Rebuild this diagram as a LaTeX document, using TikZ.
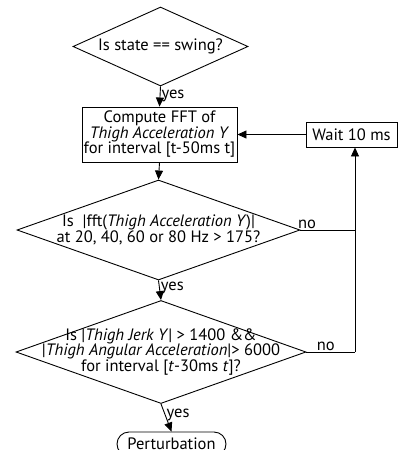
\documentclass[tikz,border=0pt]{standalone}
\usepackage{fontspec}
\setmainfont{PT Sans}
\usetikzlibrary{shapes.geometric,shapes.misc,arrows.meta}

\tikzset{
    decision/.style={draw, diamond, inner sep=-30pt, align=center},
    process/.style={draw, rectangle, inner sep=0pt, align=center},
    terminal/.style={draw, rounded rectangle, inner sep=0pt},
    flow/.style={-{Triangle[width=8pt,length=9pt]}},
    answer/.style={anchor=west, inner sep=1pt}
}

\begin{document}
\begin{tikzpicture}[x=1pt, y=1pt, line width=0.9pt, font=\fontsize{16.5}{15.5}\selectfont]
    \useasboundingbox (0,0) rectangle (398,-450);

    % MAIN COLUMN
    \node[decision, aspect=2.2, minimum width=175pt, minimum height=79pt] (swing) at (160.5, -46.5)
        {Is state == swing?};
    \node[process, minimum width=155pt, minimum height=55pt] (fft) at (159.5, -134.5)
        {Compute FFT of\\ \textit{Thigh Acceleration Y}\\ for interval [t-50ms t]};
    \node[decision, aspect=2.83, minimum width=283pt, minimum height=100pt] (peak) at (158.5, -230)
        {Is \ |fft(\textit{Thigh Acceleration Y})|\\ at 20, 40, 60 or 80 Hz > 175?};
    \node[decision, aspect=2.82, minimum width=290pt, minimum height=103pt] (jerk) at (161, -352)
        {Is |\textit{Thigh Jerk Y}| > 1400 \&\&\\ |\textit{Thigh Angular Acceleration}|> 6000\\ for interval [\textit{t}-30ms \textit{t}]?};
    \node[terminal, minimum width=109pt, minimum height=24pt] (perturb) at (171.5, -444)
        {Perturbation};

    % RIGHT: waiting loop
    \node[process, minimum width=91pt, minimum height=25pt] (wait) at (351.5, -134.5)
        {Wait 10 ms};
    \coordinate (loop) at (355, -352);

    % yes branches
    \draw[flow] (swing.south) -- node[answer, pos=0.45] {yes} (fft.north);
    \draw[flow] (fft.south) -- (peak.north);
    \draw[flow] (peak.south) -- node[answer, pos=0.4] {yes} (jerk.north);
    \draw[flow] (jerk.south) -- node[answer, pos=0.4] {yes} (perturb.north);

    % no branches
    \draw (jerk.east) -- node[above, inner sep=1pt, pos=0.4] {no} (loop);
    \draw (peak.east) -- node[above, inner sep=1pt, pos=0.12] {no} (peak.east -| loop);
    \draw[flow] (loop) -- (loop |- wait.south);
    \draw[flow] (wait.west) -- (fft.east);
\end{tikzpicture}
\end{document}
